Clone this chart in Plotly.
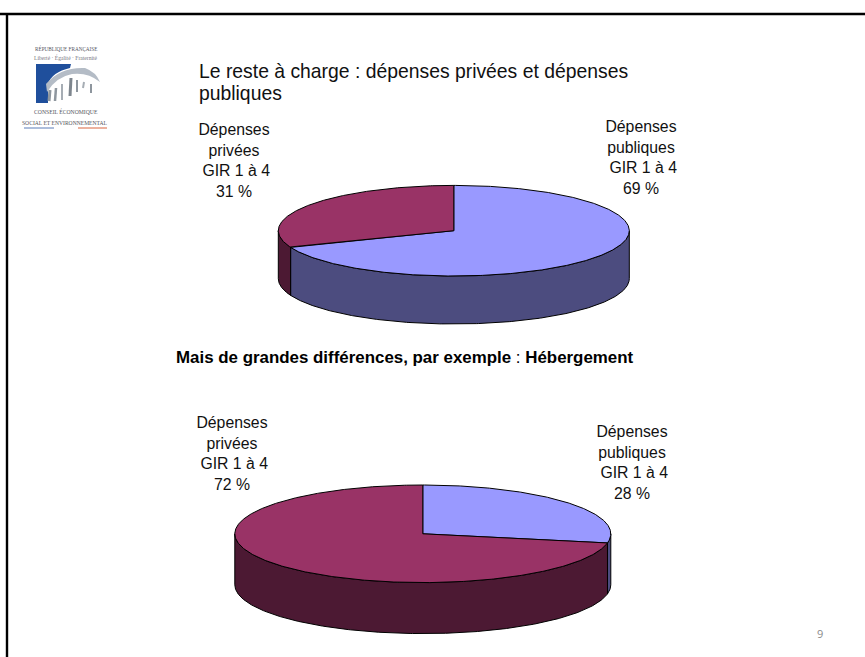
import numpy as np
import plotly.graph_objects as go

# ---- data ----
categories = ["Dépenses publiques GIR 1 à 4", "Dépenses privées GIR 1 à 4"]
values_all = [69, 31]
values_housing = [28, 72]
NB = "\u00a0"
labels_all = [f"Dépenses<br>publiques<br>{NB}GIR 1 à 4<br>69 %", f"Dépenses<br>privées<br>{NB}GIR 1 à 4<br>31 %"]
labels_housing = [f"Dépenses<br>publiques<br>{NB}GIR 1 à 4<br>28 %", f"Dépenses<br>privées<br>{NB}GIR 1 à 4<br>72 %"]
title_lines = ["Le reste à charge : dépenses privées et dépenses", "publiques"]
sub_text = "<b>Mais de grandes différences, par exemple</b> : <b>Hébergement</b>"
page_number = "9"

# ---- style ----
TOP = ["#9999FF", "#993366"]
SIDE = ["#4C4C7F", "#4C1933"]
FONT = "Liberation Sans, Arial, sans-serif"
W, H = 865, 657

fig = go.Figure()


def arc(cx, cy, rx, ry, a0, a1):
    t = np.radians(np.linspace(a0, a1, max(int(abs(a1 - a0)) * 2, 2)))
    return cx + rx * np.sin(t), cy - ry * np.cos(t)


def add_poly(x, y, fill, name):
    fig.add_trace(go.Scatter(x=list(x), y=list(y), mode="lines", fill="toself", fillcolor=fill,
                             line=dict(color="#000000", width=1), name=name, hoverinfo="name",
                             showlegend=False))


def pie3d(values, cx, cy, rx, ry, depth):
    total = sum(values)
    edges = np.concatenate([[0], np.cumsum(values) / total * 360])
    # front wall: visible part of each slice between 90 and 270 degrees clockwise from the top
    for i, cat in enumerate(categories):
        a0, a1 = max(edges[i], 90), min(edges[i + 1], 270)
        if a1 > a0:
            xs, ys = arc(cx, cy, rx, ry, a0, a1)
            add_poly(np.r_[xs, xs[::-1], xs[0]], np.r_[ys, ys[::-1] + depth, ys[0]], SIDE[i], cat)
    # top face
    for i, cat in enumerate(categories):
        xs, ys = arc(cx, cy, rx, ry, edges[i], edges[i + 1])
        add_poly(np.r_[cx, xs, cx], np.r_[cy, ys, cy], TOP[i], cat)


pie3d(values_all, 453.8, 230.7, 175.5, 45.3, 48)
pie3d(values_housing, 422.8, 533.8, 188, 48.8, 51)

annotations = []


def text(x, y, s, size=15.8, color="#111111", align="center", family=FONT, xanchor="center"):
    annotations.append(dict(x=x, y=y, xref="x", yref="y", text=s, showarrow=False, align=align,
                            xanchor=xanchor, yanchor="middle",
                            font=dict(size=size, color=color, family=family)))


text(196.5, 70.5, title_lines[0], size=19.35, align="left", xanchor="left")
text(196.5, 93, title_lines[1], size=19.35, align="left", xanchor="left")
text(640.5, 157.5, labels_all[0])
text(234, 160.5, labels_all[1])
text(405, 357.5, sub_text, size=16.9, color="#000000")
text(631.7, 462.5, labels_housing[0])
text(232, 453, labels_housing[1])
text(820, 633.5, page_number, size=11, color="#8B8B8B", family="Open Sans, sans-serif")

# logo wording
SERIF = "Liberation Serif, serif"
text(66, 48.5, "RÉPUBLIQUE FRANÇAISE", size=5.2, color="#55555F", family=SERIF)
text(66, 57, "Liberté · Égalité · Fraternité", size=5.6, color="#77777F", family=SERIF)
text(65.5, 111.5, "CONSEIL ÉCONOMIQUE", size=5.7, color="#55555C", family=SERIF)
text(64.5, 122.5, "SOCIAL ET ENVIRONNEMENTAL", size=5.6, color="#55555C", family=SERIF)

shapes = [
    dict(type="line", x0=0, x1=W, y0=14, y1=14, line=dict(color="#000000", width=2.4)),
    dict(type="line", x0=7, x1=7, y0=13, y1=H, line=dict(color="#000000", width=2.4)),
    # logo: blue block, white vault, grey pillars, tricolour rules
    dict(type="path", path="M 36 64 L 71 64 L 70 68 Q 52 72 48 84 L 48 103 L 36 103 Z",
         fillcolor="#1F4F9C", line=dict(width=0), layer="below"),
    dict(type="path", path="M 46 84 Q 60 67 85 68 Q 96 72 100 82 Q 88 72 72 74 Q 56 77 47 92 Z",
         fillcolor="#B4BCC6", line=dict(width=0), layer="below"),
    dict(type="line", x0=50, x1=49, y0=90, y1=101, line=dict(color="#8E969E", width=3)),
    dict(type="line", x0=56, x1=55, y0=88, y1=101, line=dict(color="#8E969E", width=2.5)),
    dict(type="line", x0=62, x1=62, y0=84, y1=100, line=dict(color="#A6ADB4", width=2)),
    dict(type="line", x0=71, x1=70, y0=78, y1=96, line=dict(color="#7E868E", width=3)),
    dict(type="line", x0=77, x1=77, y0=80, y1=92, line=dict(color="#8E969E", width=2)),
    dict(type="line", x0=84, x1=83, y0=82, y1=88, line=dict(color="#A6ADB4", width=2)),
    dict(type="line", x0=91, x1=91, y0=84, y1=93, line=dict(color="#8E969E", width=2)),
    dict(type="line", x0=24, x1=54, y0=128, y1=128, line=dict(color="#5A7DB8", width=1)),
    dict(type="line", x0=78, x1=107, y0=128, y1=128, line=dict(color="#D9653F", width=1)),
]

fig.update_layout(
    width=W, height=H, margin=dict(l=0, r=0, t=0, b=0), paper_bgcolor="#FFFFFF", plot_bgcolor="#FFFFFF",
    showlegend=False, annotations=annotations, shapes=shapes,
    xaxis=dict(range=[0, W], visible=False, fixedrange=True),
    yaxis=dict(range=[H, 0], visible=False, fixedrange=True),
)
fig.write_html("out.html", config=dict(displayModeBar=False),
               post_script="document.body.style.margin='0';document.body.style.overflow='hidden';")
